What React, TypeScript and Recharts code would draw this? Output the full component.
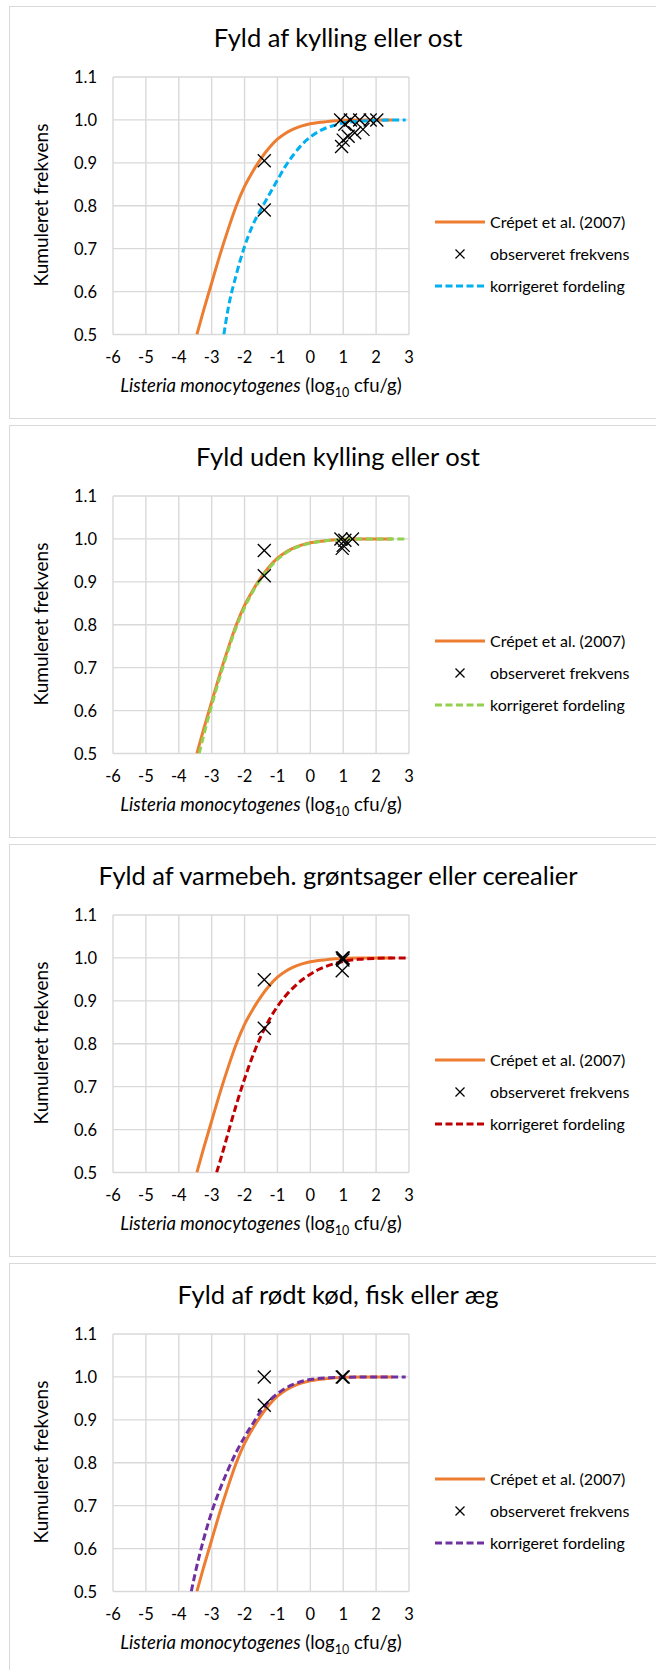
import React from "react";
import { ComposedChart, Line, Scatter, XAxis, YAxis, CartesianGrid } from "recharts";

// ---------- data ----------
const xTicks = [-6, -5, -4, -3, -2, -1, 0, 1, 2, 3];
const yTicks = [0.5, 0.6, 0.7, 0.8, 0.9, 1.0, 1.1];

const titles = [
  "Fyld af kylling eller ost",
  "Fyld uden kylling eller ost",
  "Fyld af varmebeh. grøntsager eller cerealier",
  "Fyld af rødt kød, fisk eller æg",
];
const legendLabels = ["Crépet et al. (2007)", "observeret frekvens", "korrigeret fordeling"];

// Crépet et al. (2007) – same in all panels
const crepetX = [-3.45, -3.25, -3.0, -2.75, -2.5, -2.25, -2.0, -1.75, -1.5, -1.25, -1.0, -0.75, -0.5, -0.25, 0, 0.25, 0.5, 0.75, 1.0, 1.5, 2.0, 2.5];
const crepetY = [0.5, 0.555, 0.62, 0.685, 0.745, 0.8, 0.845, 0.88, 0.91, 0.935, 0.955, 0.969, 0.979, 0.986, 0.991, 0.994, 0.996, 0.998, 0.999, 1.0, 1.0, 1.0];

// korrigeret fordeling, panel 1 (blue)
const corr1X = [-2.63, -2.5, -2.25, -2.0, -1.75, -1.5, -1.25, -1.0, -0.75, -0.5, -0.25, 0, 0.25, 0.5, 0.75, 1.0, 1.5, 2.0, 2.5, 2.9];
const corr1Y = [0.5, 0.56, 0.64, 0.705, 0.755, 0.792, 0.826, 0.86, 0.893, 0.92, 0.943, 0.96, 0.973, 0.982, 0.988, 0.993, 0.997, 0.999, 1.0, 1.0];
// panel 2 (green)
const corr2X = [-3.38, -3.25, -3.0, -2.75, -2.5, -2.25, -2.0, -1.75, -1.5, -1.25, -1.0, -0.75, -0.5, -0.25, 0, 0.5, 1.0, 1.5, 2.0, 2.9];
const corr2Y = [0.5, 0.54, 0.612, 0.678, 0.74, 0.795, 0.84, 0.877, 0.907, 0.932, 0.952, 0.967, 0.978, 0.985, 0.99, 0.996, 0.999, 1.0, 1.0, 1.0];
// panel 3 (dark red)
const corr3X = [-2.85, -2.75, -2.5, -2.25, -2.0, -1.75, -1.5, -1.25, -1.0, -0.75, -0.5, -0.25, 0, 0.25, 0.5, 0.75, 1.0, 1.5, 2.0, 2.5, 2.9];
const corr3Y = [0.5, 0.525, 0.592, 0.658, 0.718, 0.772, 0.818, 0.856, 0.887, 0.912, 0.932, 0.949, 0.962, 0.973, 0.981, 0.987, 0.992, 0.997, 0.999, 1.0, 1.0];
// panel 4 (purple)
const corr4X = [-3.62, -3.5, -3.25, -3.0, -2.75, -2.5, -2.25, -2.0, -1.75, -1.5, -1.25, -1.0, -0.75, -0.5, -0.25, 0, 0.5, 1.0, 1.5, 2.9];
const corr4Y = [0.5, 0.543, 0.62, 0.685, 0.738, 0.784, 0.825, 0.86, 0.891, 0.921, 0.944, 0.961, 0.974, 0.983, 0.99, 0.994, 0.998, 0.999, 1.0, 1.0];

// observeret frekvens
const obs1X = [-1.4, -1.4, 0.92, 1.22, 1.5, 1.82, 2.02, 1.05, 1.35, 1.6, 1.15, 1.0, 0.95];
const obs1Y = [0.905, 0.79, 1.0, 1.0, 1.0, 1.0, 1.0, 0.99, 0.97, 0.978, 0.962, 0.953, 0.938];
const obs2X = [-1.4, -1.4, 0.93, 1.05, 1.0, 0.97, 1.28];
const obs2Y = [0.973, 0.914, 1.0, 0.997, 0.985, 0.978, 1.0];
const obs3X = [-1.4, -1.4, 0.97, 1.0, 0.99, 0.97];
const obs3Y = [0.949, 0.836, 1.0, 1.0, 0.995, 0.97];
const obs4X = [-1.4, -1.4, 0.97, 1.0];
const obs4Y = [1.0, 0.934, 1.0, 1.0];

const corrColors = ["#00B0F0", "#92D050", "#C00000", "#7030A0"];
const crepetColor = "#ED7D31";

const zip = (xs: number[], ys: number[]) => xs.map((x, i) => ({ x, y: ys[i] }));

const crepet = zip(crepetX, crepetY);
const corrected = [zip(corr1X, corr1Y), zip(corr2X, corr2Y), zip(corr3X, corr3Y), zip(corr4X, corr4Y)];
const observed = [zip(obs1X, obs1Y), zip(obs2X, obs2Y), zip(obs3X, obs3Y), zip(obs4X, obs4Y)];

// ---------- layout ----------
const FONT = "Lato, 'Open Sans', sans-serif";
const W = 656;
const H = 413;
const PANEL_TOPS = [6, 425, 844, 1263];
const M = { top: 71, right: 247, bottom: 54.5, left: 63 };
const PLOT_LEFT = 113;
const PLOT_RIGHT = W - M.right;
const PLOT_CX = (PLOT_LEFT + PLOT_RIGHT) / 2;

const XCross = (props: any) => {
  const { cx, cy } = props;
  if (cx == null || cy == null) return null;
  const s = 6.5;
  return (
    <g>
      <line x1={cx - s} y1={cy - s} x2={cx + s} y2={cy + s} stroke="#000" strokeWidth={1.3} />
      <line x1={cx - s} y1={cy + s} x2={cx + s} y2={cy - s} stroke="#000" strokeWidth={1.3} />
    </g>
  );
};

const XTick = (props: any) => {
  const { x, y, payload } = props;
  return (
    <text x={x} y={y + 28.5} textAnchor="middle" fontFamily={FONT} fontSize={16.5} fill="#000">
      {payload.value}
    </text>
  );
};

const YTick = (props: any) => {
  const { x, y, payload } = props;
  return (
    <text x={x - 16} y={y + 6} textAnchor="end" fontFamily={FONT} fontSize={16.5} fill="#000">
      {Number(payload.value).toFixed(1)}
    </text>
  );
};

function Panel({ idx }: { idx: number }) {
  const top = PANEL_TOPS[idx];
  const color = corrColors[idx];
  const dash = "7 3.5";
  return (
    <>
      <div
        style={{
          position: "absolute",
          left: 9,
          top,
          width: 700,
          height: 413,
          boxSizing: "border-box",
          border: "1.5px solid #d9d9d9",
          background: "#fff",
        }}
      />
      <div style={{ position: "absolute", left: 0, top, width: W, height: H }}>
        <ComposedChart width={W} height={H} margin={M}>
          <CartesianGrid stroke="#d9d9d9" strokeWidth={1.4} />
          <XAxis
            type="number"
            dataKey="x"
            domain={[-6, 3]}
            ticks={xTicks}
            allowDataOverflow
            axisLine={false}
            tickLine={false}
            tickSize={0}
            tickMargin={0}
            height={30}
            tick={<XTick />}
            interval={0}
          />
          <YAxis
            type="number"
            dataKey="y"
            domain={[0.5, 1.1]}
            ticks={yTicks}
            allowDataOverflow
            axisLine={false}
            tickLine={false}
            tickSize={0}
            tickMargin={0}
            width={50}
            tick={<YTick />}
            interval={0}
          />
          <Line
            data={crepet}
            dataKey="y"
            type="monotone"
            stroke={crepetColor}
            strokeWidth={3}
            dot={false}
            activeDot={false}
            isAnimationActive={false}
          />
          <Line
            data={corrected[idx]}
            dataKey="y"
            type="monotone"
            stroke={color}
            strokeWidth={3}
            strokeDasharray={dash}
            dot={false}
            activeDot={false}
            isAnimationActive={false}
          />
          <Scatter data={observed[idx]} dataKey="y" shape={<XCross />} isAnimationActive={false} />
        </ComposedChart>
        <svg
          width={W}
          height={H}
          style={{ position: "absolute", left: 0, top: 0, pointerEvents: "none" }}
        >
          <text x={338} y={41} textAnchor="middle" fontFamily={FONT} fontSize={25.5} fill="#000">
            {titles[idx]}
          </text>
          <text
            x={48}
            y={199}
            transform="rotate(-90 48 199)"
            textAnchor="middle"
            fontFamily={FONT}
            fontSize={19}
            fill="#000"
          >
            Kumuleret frekvens
          </text>
          <text x={PLOT_CX} y={386} textAnchor="middle" fontFamily={FONT} fontSize={18.5} fill="#000">
            <tspan fontStyle="italic">Listeria monocytogenes</tspan>
            <tspan> (log</tspan>
            <tspan fontSize={12.5} dy={4.5}>10</tspan>
            <tspan dy={-4.5}> cfu/g)</tspan>
          </text>
          {/* legend */}
          <line x1={435} y1={216} x2={485} y2={216} stroke={crepetColor} strokeWidth={3} />
          <text x={490} y={221.8} fontFamily={FONT} fontSize={16} fill="#000">
            {legendLabels[0]}
          </text>
          <line x1={455.5} y1={243.5} x2={464.5} y2={252.5} stroke="#000" strokeWidth={1.2} />
          <line x1={455.5} y1={252.5} x2={464.5} y2={243.5} stroke="#000" strokeWidth={1.2} />
          <text x={490} y={253.8} fontFamily={FONT} fontSize={16} fill="#000">
            {legendLabels[1]}
          </text>
          <line x1={435} y1={280} x2={485} y2={280} stroke={color} strokeWidth={3} strokeDasharray={dash} />
          <text x={490} y={285.8} fontFamily={FONT} fontSize={16} fill="#000">
            {legendLabels[2]}
          </text>
        </svg>
      </div>
    </>
  );
}

export default function App() {
  return (
    <div
      style={{
        position: "absolute",
        left: 0,
        top: 0,
        width: W,
        height: 1670,
        overflow: "hidden",
        background: "#fff",
      }}
    >
      {[0, 1, 2, 3].map((i) => (
        <Panel key={i} idx={i} />
      ))}
    </div>
  );
}
